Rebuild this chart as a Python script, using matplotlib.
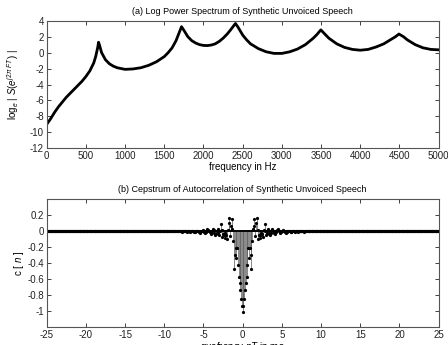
import numpy as np
import matplotlib
matplotlib.use('Agg')
import matplotlib.pyplot as plt

plt.rcParams['font.family'] = ['Liberation Sans', 'DejaVu Sans']
plt.rcParams['mathtext.fontset'] = 'custom'
plt.rcParams['mathtext.rm'] = 'Liberation Sans'
plt.rcParams['mathtext.it'] = 'Liberation Sans:italic'
plt.rcParams['axes.unicode_minus'] = False

# (a) log power spectrum
freq_hz = [0, 50, 100, 150, 200, 250, 300, 350, 400, 450, 500, 550, 600, 625, 650, 662,
           675, 700, 750, 800, 850, 900, 1000, 1100, 1200, 1300, 1400, 1500, 1550, 1600,
           1650, 1690, 1720, 1750, 1800, 1850, 1900, 1950, 2000, 2050, 2100, 2150, 2200,
           2250, 2300, 2350, 2380, 2408, 2440, 2500, 2550, 2600, 2700, 2800, 2900, 3000,
           3100, 3200, 3300, 3400, 3450, 3497, 3550, 3600, 3700, 3800, 3900, 4000, 4100,
           4200, 4300, 4400, 4450, 4493, 4550, 4600, 4700, 4800, 4900, 5000]
log_spec = [-9.0, -8.3, -7.5, -6.8, -6.2, -5.6, -5.1, -4.6, -4.1, -3.6, -3.0, -2.3, -1.3,
            -0.5, 0.6, 1.3, 0.9, 0.0, -0.9, -1.4, -1.7, -1.9, -2.1, -2.05, -1.9, -1.6,
            -1.15, -0.5, 0.0, 0.6, 1.5, 2.5, 3.25, 2.8, 2.0, 1.5, 1.2, 1.0, 0.9, 0.88,
            0.95, 1.1, 1.4, 1.8, 2.3, 2.9, 3.3, 3.65, 3.2, 2.2, 1.6, 1.1, 0.5, 0.1, -0.1,
            -0.1, 0.1, 0.45, 1.0, 1.8, 2.3, 2.85, 2.3, 1.8, 1.1, 0.65, 0.4, 0.3, 0.4, 0.7,
            1.1, 1.7, 2.0, 2.33, 2.0, 1.6, 1.0, 0.6, 0.4, 0.35]

# (b) cepstrum, n = 0..80 (even sequence, samples every 0.1 ms)
cep_right = [-1.01, -0.93, -0.84, -0.73, -0.64, -0.57, -0.42, -0.21, -0.33, -0.21,
             -0.30, -0.47, -0.12, 0.03, 0.15, 0.07, -0.06, 0.10, 0.17, 0.02,
             -0.10, -0.04, -0.08, -0.02, -0.05, -0.03, -0.07, 0.02, 0.09, 0.01,
             -0.04, -0.02, 0.03, 0.01, -0.03, -0.05, -0.02, 0.02, 0.03, 0.00,
             -0.02, -0.03, -0.01, 0.01, 0.02, 0.03, 0.01, -0.01, -0.02, -0.01,
             0.01, 0.02, 0.01, 0.00, -0.01, -0.015, -0.01, 0.00, 0.01, 0.01,
             0.00, -0.01, -0.01, 0.00, 0.01, 0.01, 0.00, -0.01, 0.00, 0.01,
             0.00, -0.005, 0.00, 0.005, 0.00, 0.00, 0.005, 0.00, -0.005, 0.00, 0.00]
n_max = 250          # +-25 ms
t_sample = 0.1       # ms

right = np.concatenate([cep_right, np.zeros(n_max + 1 - len(cep_right))])
cep = np.concatenate([right[:0:-1], right])
quef = np.arange(-n_max, n_max + 1) * t_sample

fig = plt.figure(figsize=(4.48, 3.45), dpi=100)

def style(ax):
    ax.tick_params(direction='in', length=3, width=0.6, top=True, right=True,
                   labelsize=7, pad=2, colors='#222222')
    for s in ax.spines.values():
        s.set_linewidth(0.8)
        s.set_color('#555555')

ax1 = fig.add_axes([0.1042, 0.5701, 0.875, 0.3699])
ax1.plot(freq_hz, log_spec, color='black', linewidth=2.0)
ax1.set_xlim(0, 5000)
ax1.set_ylim(-12, 4)
ax1.set_xticks(np.arange(0, 5001, 500))
ax1.set_yticks(np.arange(-12, 5, 2))
ax1.set_title('(a) Log Power Spectrum of Synthetic Unvoiced Speech', fontsize=6.5, pad=5)
ax1.set_xlabel('frequency in Hz', fontsize=7, labelpad=1)
ax1.set_ylabel(r'$\mathrm{log}_e\ |\ S(e^{j2\pi\ FT})\ |$', fontsize=7)
ax1.yaxis.set_label_coords(-0.066, 0.5)
style(ax1)

ax2 = fig.add_axes([0.1042, 0.0513, 0.875, 0.371])
markerline, stemlines, baseline = ax2.stem(quef, cep, basefmt='k-')
plt.setp(stemlines, color='0.35', linewidth=0.5)
plt.setp(markerline, color='black', marker='o', markersize=1.3)
plt.setp(baseline, color='black', linewidth=1.4)
ax2.set_xlim(-25, 25)
ax2.set_ylim(-1.2, 0.4)
ax2.set_xticks(np.arange(-25, 26, 5))
ax2.set_yticks([-1, -0.8, -0.6, -0.4, -0.2, 0, 0.2])
ax2.set_yticklabels(['-1', '-0.8', '-0.6', '-0.4', '-0.2', '0', '0.2'])
ax2.set_title('(b) Cepstrum of Autocorrelation of Synthetic Unvoiced Speech', fontsize=6.5, pad=5)
ax2.set_xlabel(r'quefrency $nT$ in ms', fontsize=7, labelpad=0)
ax2.set_ylabel(r'c [ $n$ ]', fontsize=7)
ax2.yaxis.set_label_coords(-0.052, 0.5)
style(ax2)

fig.savefig('out.png', dpi=100)
